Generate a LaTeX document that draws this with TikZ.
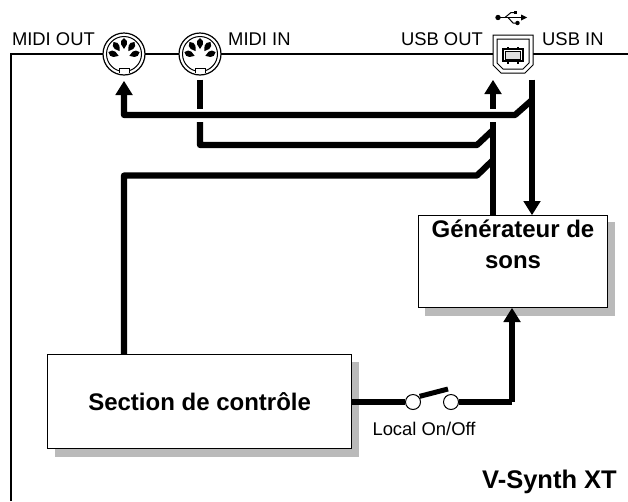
\documentclass[tikz,border=0pt]{standalone}
\usepackage{fontspec}
\setmainfont{Liberation Sans}
\usetikzlibrary{arrows.meta,calc}
\tikzset{
 x=1pt,y=-1pt,
 sig/.style={line width=6.2pt,line join=round},
 sigarrow/.style={sig,-{Triangle[length=14pt,width=17.5pt,line width=0pt]}},
 unit/.style={draw=black,line width=1.3pt,fill=white,inner sep=0pt,align=center,font=\bfseries\fontsize{24}{31}\selectfont},
 shadowbox/.style={fill=black!27,draw=none},
 lab/.style={inner sep=0pt,font=\fontsize{18.4}{20}\selectfont},
 din/.style={circle,draw=black,fill=white,line width=1.2pt,minimum size=42pt,inner sep=0pt},
 contact/.style={circle,draw=black,fill=white,line width=1pt,minimum size=15pt,inner sep=0pt},
}
\newcommand{\dinpins}[1]{%
 \draw[line width=1pt] (#1) circle (17.5);
 \foreach \a/\o in {90/90,135/124,45/56,180/160,0/20}{
   \fill[black] ($(#1)+(-\a:10.5)+(-\o:-5.5)$)
     -- ($(#1)+(-\a:10.5)+(-\o:-1)+(-\o-90:2.8)$)
     -- ($(#1)+(-\a:10.5)+(-\o:2.5)+(-\o-90:2.8)$)
     -- ($(#1)+(-\a:10.5)+(-\o:5.5)$)
     -- ($(#1)+(-\a:10.5)+(-\o:2.5)+(-\o+90:2.8)$)
     -- ($(#1)+(-\a:10.5)+(-\o:-1)+(-\o+90:2.8)$) -- cycle;
 }
 \fill[white] ($(#1)+(-5,14)$) rectangle ($(#1)+(5,19)$);
 \draw[line width=1pt] ($(#1)+(-5,18.5)$) -- ($(#1)+(-5,14)$) -- ($(#1)+(5,14)$) -- ($(#1)+(5,18.5)$);
}
\begin{document}
\begin{tikzpicture}
\useasboundingbox (0,0) rectangle (628,501);
% frame
\coordinate (fa) at (11,501);\coordinate (fb) at (11,54);\coordinate (fc) at (628,54);
\draw[line width=1.8pt] (fa) -- (fb) -- (fc);
% connectors
\node[din] (mout) at (124,54) {};
\node[din] (min) at (200,54) {};
\dinpins{mout}\dinpins{min}
% usb
\draw[line width=1pt,fill=white] (493,35) -- (533,35) -- (533,65) -- (525,73) -- (501,73) -- (493,65) -- cycle;
\draw[line width=1pt] (497,39) -- (529,39) -- (529,63) -- (523,69) -- (503,69) -- (497,63) -- cycle;
\draw[line width=1.4pt] (503,49) rectangle (523,61);
\draw[line width=0.8pt,fill=black!12] (505.5,51) rectangle (520.5,59);
\foreach \x in {507,517}{\fill (\x,46.5) rectangle +(2,2.5);\fill (\x,61) rectangle +(2,2.5);}
% usb symbol
\fill (498,17.5) circle (2.7);
\draw[line width=1pt] (498,17.5) -- (522,17.5);
\fill (527,17.5) -- (521,14.5) -- (521,20.5) -- cycle;
\draw[line width=1pt] (505,17.5) -- (511,12.5) -- (514,12.5);
\fill (514,10.8) rectangle +(3.4,3.4);
\draw[line width=1pt] (508,17.5) -- (513,23) -- (516,23);
\fill (517.5,23) circle (2.2);
% labels
\node[lab,anchor=base east] (l1) at (95,45) {MIDI OUT};
\node[lab,anchor=base west] (l2) at (228,45) {MIDI IN};
\node[lab,anchor=base east] (l3) at (483,45) {USB OUT};
\node[lab,anchor=base west] (l4) at (542,45) {USB IN};
% boxes
\fill[shadowbox] (425,222) rectangle (615,316);
\fill[shadowbox] (55,362) rectangle (359,457);
\node[unit,minimum width=189pt,minimum height=92pt,anchor=north west] (gen) at (418,215) {};
\node[unit,draw=none,fill=none] (gentext) at (513,244) {Générateur de\\sons};
\node[unit,minimum width=304pt,minimum height=94pt,anchor=north west] (sec) at (47,354) {Section de contrôle};
% switch
\node[contact] (s1) at (413,402) {};
\node[contact] (s2) at (451,402) {};
\coordinate (lev) at (448,389);
\draw[line width=5pt] (s1.north east) ++(1,0) -- (lev);
\node[lab,anchor=base] (loc) at (424,435) {Local On/Off};
\node[anchor=base east,inner sep=0pt,font=\bfseries\fontsize{25.5}{28}\selectfont] (vs) at (617,488) {V-Synth XT};
% signals
\coordinate (j1a) at (124,115);\coordinate (j1b) at (515,115);\coordinate (j1c) at (532,100);
\coordinate (tip1) at (124,81);
\draw[sigarrow] (j1c) -- (j1b) -- (j1a) -- (tip1);
\coordinate (u1) at (532,79.5);\coordinate (g1) at (532,215);
\draw[sigarrow] (u1) -- (g1);
\coordinate (m1) at (200,79.5);\coordinate (m2) at (200,108.5);
\draw[sig] (m1) -- (m2);
\coordinate (m3) at (200,122);\coordinate (m4) at (200,145);\coordinate (m5) at (477,145);\coordinate (m6) at (493,130);
\draw[sig] (m3) -- (m4) -- (m5) -- (m6);
\coordinate (o1) at (493,122);\coordinate (o2) at (493,215);
\draw[sig] (o1) -- (o2);
\coordinate (o3) at (493,108.5);\coordinate (o4) at (493,80);
\draw[sigarrow] (o3) -- (o4);
\coordinate (c1) at (124,175.5);\coordinate (c2) at (477,175.5);\coordinate (c3) at (493,160);
\draw[sig] (sec.north -| c1) -- (c1) -- (c2) -- (c3);
\draw[sig] (sec.east |- s1) -- (s1.west);
\coordinate (r1) at (512,402);
\draw[sig] (s2.east) -- (r1);
\coordinate (r2) at (512,308);
\draw[sigarrow] (r1) -- (r2);
\end{tikzpicture}
\end{document}
